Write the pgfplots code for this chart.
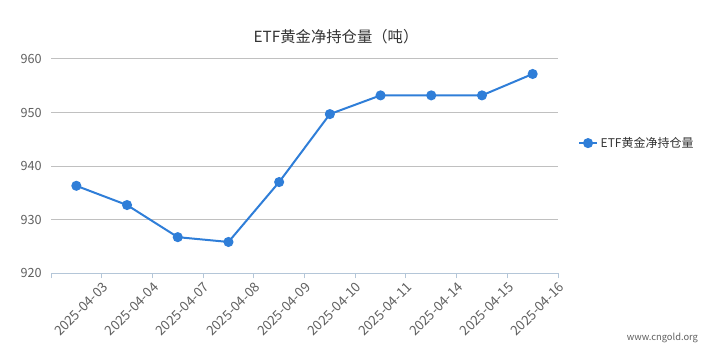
\documentclass[border=0pt]{standalone}
\usepackage{pgfplots}
\pgfplotsset{compat=1.18}
\usepackage{fontspec}
\setmainfont{Noto Sans CJK SC}
\definecolor{linec}{RGB}{47,126,216}
\definecolor{axisc}{RGB}{180,198,216}
\definecolor{gridc}{RGB}{192,192,192}
\definecolor{labc}{RGB}{96,96,96}
\definecolor{titc}{RGB}{51,51,51}
\begin{document}
\begin{tikzpicture}
\path[use as bounding box] (0,0) rectangle (529.5pt,267.75pt);
\begin{axis}[
  at={(38.25pt,63pt)}, anchor=south west,
  width=380.25pt, height=160.5pt, scale only axis,
  xmin=-0.5, xmax=9.5, ymin=920, ymax=960,
  axis x line*=bottom, axis y line*=left,
  x axis line style={draw=axisc, line width=0.75pt, -},
  y axis line style={draw=none},
  xtick={-0.5,0.5,1.5,2.5,3.5,4.5,5.5,6.5,7.5,8.5,9.5},
  xticklabels={,2025-04-03,2025-04-04,2025-04-07,2025-04-08,2025-04-09,2025-04-10,2025-04-11,2025-04-14,2025-04-15,2025-04-16},
  xtick style={draw=axisc, line width=0.75pt},
  ytick style={draw=none},
  tick align=outside, major tick length=4pt,
  xticklabel style={rotate=45, anchor=east, font=\fontsize{10pt}{11pt}\selectfont, text=labc, yshift=-5.5pt, xshift=-1.5pt, inner sep=0pt},
  ytick={920,930,940,950,960},
  ymajorgrids, grid style={draw=gridc, line width=0.75pt},
  yticklabel style={font=\fontsize{9.5pt}{10pt}\selectfont, text=labc, xshift=0.5pt},
  /pgf/number format/assume math mode=true,
  clip=false,
  legend style={at={(axis description cs:1.039,0.607)}, anchor=west, draw=none, fill=none,
    font=\fontsize{9pt}{10pt}\selectfont, text=titc, inner sep=0pt},
  legend image code/.code={\draw[#1, mark repeat=2, mark phase=2] plot coordinates {(0pt,0pt)(6.75pt,0pt)(13.5pt,0pt)};},
]
\addplot[color=linec, line width=1.5pt, mark=*, mark size=3pt, mark options={fill=linec, draw=linec}]
 coordinates {(0,936.3) (1,932.7) (2,926.7) (3,925.8) (4,937.0) (5,949.7) (6,953.2) (7,953.2) (8,953.2) (9,957.2)};
\addlegendentry{ETF黄金净持仓量}
\end{axis}
\node[font=\fontsize{11.5pt}{13pt}\selectfont, text=titc] at (252pt,240pt) {ETF黄金净持仓量（吨）};
\node[font=\fontsize{7pt}{8pt}\selectfont, text=labc, anchor=east] at (527pt,14pt) {www.cngold.org};
\end{tikzpicture}
\end{document}
